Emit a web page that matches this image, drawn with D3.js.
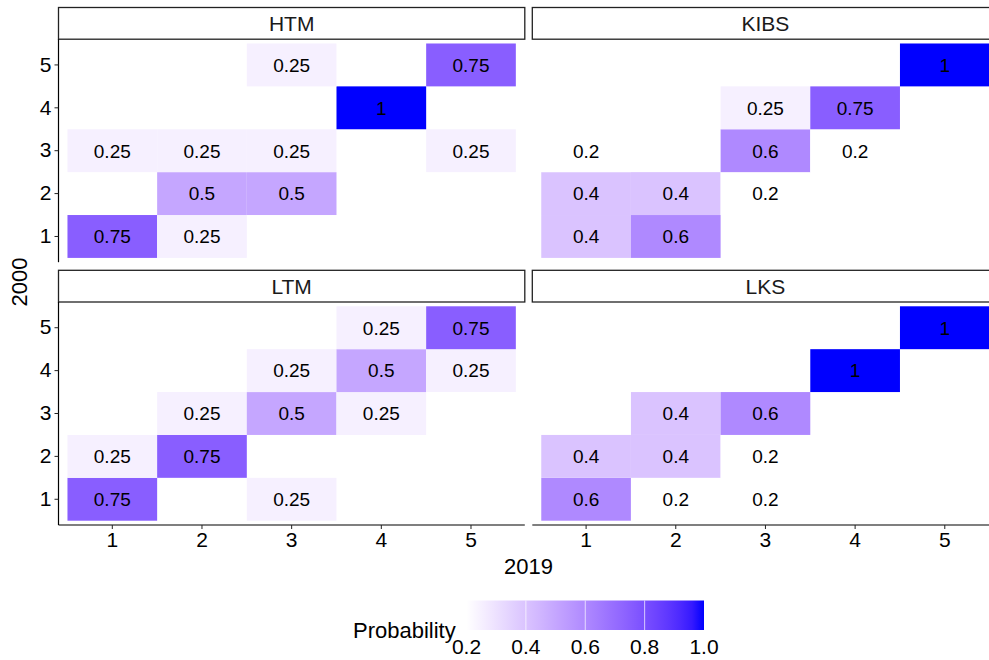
<!doctype html>
<html lang="en">
<head>
<meta charset="utf-8">
<title>Transition probabilities 2000 - 2019</title>
<script src="https://d3js.org/d3.v7.min.js"></script>
<style>
  body { margin: 0; background: #fff; }
  svg { display: block; font-family: "Liberation Sans", Arial, sans-serif; }
</style>
</head>
<body>
<div id="chart"></div>
<script>

// classes on both axes (2019 on x, 2000 on y)
var classes = ["1", "2", "3", "4", "5"];

// facet order, as in the panels (left to right, top to bottom)
var facets = ["HTM", "KIBS", "LTM", "LKS"];

// rows are the 2000 class 1..5, columns the 2019 class 1..5 (null = no tile)
var htm = [
    [0.75, 0.25, null, null, null],
    [null, 0.5, 0.5, null, null],
    [0.25, 0.25, 0.25, null, 0.25],
    [null, null, null, 1, null],
    [null, null, 0.25, null, 0.75]
];
var kibs = [
    [0.4, 0.6, null, null, null],
    [0.4, 0.4, 0.2, null, null],
    [0.2, null, 0.6, 0.2, null],
    [null, null, 0.25, 0.75, null],
    [null, null, null, null, 1]
];
var ltm = [
    [0.75, null, 0.25, null, null],
    [0.25, 0.75, null, null, null],
    [null, 0.25, 0.5, 0.25, null],
    [null, null, 0.25, 0.5, 0.25],
    [null, null, null, 0.25, 0.75]
];
var lks = [
    [0.6, 0.2, 0.2, null, null],
    [0.4, 0.4, 0.2, null, null],
    [null, 0.4, 0.6, null, null],
    [null, null, null, 1, null],
    [null, null, null, null, 1]
];
var matrices = [htm, kibs, ltm, lks];

// legend
var legendTicks = [0.2, 0.4, 0.6, 0.8, 1.0];

var width = 989;
var height = 660;

var panelLeft = [58.5, 532.3];
var panelW = 466.3;
var stripTop = [7.5, 270.3];
var stripH = 31.7;
var panelH = 223;

var svg = d3.select("#chart").append("svg")
    .attr("width", width)
    .attr("height", height);

//scales shared by every panel
var x = d3.scaleBand().domain(classes).range([0, panelW]).paddingInner(0).paddingOuter(0.1);
var y = d3.scaleBand().domain(classes.slice().reverse()).range([0, panelH]).paddingInner(0).paddingOuter(0.1);

var color = d3.scaleLinear().domain([0.2, 1]).range(["white", "blue"])
    .interpolate(d3.interpolateLab).clamp(true);

facets.forEach(function(name, k) {
    var col = k % 2;
    var row = Math.floor(k / 2);
    var px = panelLeft[col];
    var sy = stripTop[row];
    var py = sy + stripH;

    //strip
    svg.append("rect")
        .attr("x", px).attr("y", sy)
        .attr("width", panelW).attr("height", stripH)
        .attr("fill", "white").attr("stroke", "#222").attr("stroke-width", 1.3);
    svg.append("text")
        .attr("x", px + panelW / 2).attr("y", sy + stripH / 2)
        .attr("dy", "0.36em").attr("text-anchor", "middle")
        .attr("font-size", 21).attr("fill", "#1a1a1a")
        .text(name);

    var g = svg.append("g").attr("transform", "translate(" + px + "," + py + ")");

    //flatten matrix into cells
    var cells = [];
    matrices[k].forEach(function(r, i) {
        r.forEach(function(v, j) {
            if (v !== null) cells.push({ x: classes[j], y: classes[i], v: v });
        });
    });

    g.selectAll("rect.tile").data(cells).enter().append("rect")
        .attr("class", "tile")
        .attr("x", function(d) { return x(d.x); })
        .attr("y", function(d) { return y(d.y); })
        .attr("width", x.bandwidth())
        .attr("height", y.bandwidth())
        .attr("fill", function(d) { return color(d.v); });

    g.selectAll("text.lab").data(cells).enter().append("text")
        .attr("class", "lab")
        .attr("x", function(d) { return x(d.x) + x.bandwidth() / 2; })
        .attr("y", function(d) { return y(d.y) + y.bandwidth() / 2; })
        .attr("dy", "0.36em").attr("text-anchor", "middle")
        .attr("font-size", 19).attr("fill", "black")
        .text(function(d) { return String(d.v); });

    //left axis only on the left column
    if (col === 0) {
        var ya = g.append("g").call(d3.axisLeft(y).tickSizeOuter(0).tickSize(4).tickPadding(3));
        ya.select(".domain").attr("stroke", "black").attr("stroke-width", 1.2)
            .attr("d", "M0,0V" + panelH);
        ya.selectAll("line").attr("stroke", "#222");
        ya.selectAll("text").attr("font-size", 21).attr("fill", "black")
            .attr("font-family", "Liberation Sans, Arial, sans-serif");
    }
    //bottom axis only on the bottom row
    if (row === 1) {
        var xa = g.append("g").attr("transform", "translate(0," + panelH + ")")
            .call(d3.axisBottom(x).tickSizeOuter(0).tickSize(4).tickPadding(3));
        xa.select(".domain").attr("stroke", "black").attr("stroke-width", 1.2)
            .attr("d", "M0,0H" + panelW);
        xa.selectAll("line").attr("stroke", "#222");
        xa.selectAll("text").attr("font-size", 21).attr("fill", "black")
            .attr("font-family", "Liberation Sans, Arial, sans-serif");
    }
});

//axis titles
svg.append("text")
    .attr("x", (panelLeft[0] + panelLeft[1] + panelW) / 2).attr("y", 573.5)
    .attr("text-anchor", "middle").attr("font-size", 22)
    .text("2019");
svg.append("text")
    .attr("transform", "translate(27," + (stripTop[0] + stripH + stripTop[1] + stripH + panelH) / 2 + ") rotate(-90)")
    .attr("text-anchor", "middle").attr("font-size", 22)
    .text("2000");

//legend colour bar
var lx = d3.scaleLinear().domain([0.2, 1]).range([466.5, 704]);
var defs = svg.append("defs");
var grad = defs.append("linearGradient").attr("id", "grad");
d3.range(0, 1.0001, 0.05).forEach(function(t) {
    grad.append("stop").attr("offset", t)
        .attr("stop-color", color(0.2 + t * 0.8));
});
svg.append("rect")
    .attr("x", lx(0.2)).attr("y", 600.5)
    .attr("width", lx(1) - lx(0.2)).attr("height", 29.5)
    .attr("fill", "url(#grad)");
svg.selectAll("line.ltick").data(legendTicks.slice(1, -1)).enter().append("line")
    .attr("class", "ltick")
    .attr("x1", function(d) { return lx(d); }).attr("x2", function(d) { return lx(d); })
    .attr("y1", 600.5).attr("y2", 630)
    .attr("stroke", "white").attr("stroke-opacity", 0.7).attr("stroke-width", 1);
svg.selectAll("text.ltext").data(legendTicks).enter().append("text")
    .attr("class", "ltext")
    .attr("x", function(d) { return lx(d); }).attr("y", 653.5)
    .attr("text-anchor", "middle").attr("font-size", 21)
    .text(function(d) { return d.toFixed(1); });
svg.append("text")
    .attr("x", 353).attr("y", 638)
    .attr("font-size", 22)
    .text("Probability");

</script>
</body>
</html>
